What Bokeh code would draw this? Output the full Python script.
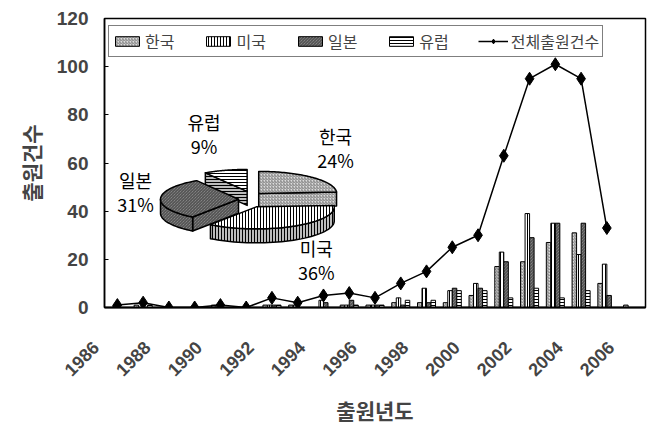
import numpy as np
from bokeh.plotting import figure
from bokeh.models import Range1d, FixedTicker, Legend, LegendItem, ColumnDataSource
from bokeh.core.properties import value
from bokeh.embed import file_html
from bokeh.resources import INLINE

# ---- data -------------------------------------------------------------
years = list(range(1986, 2007))
year_ticks = years[::2]
year_tick_labels = [str(y) for y in year_ticks]

korea = [0, 1, 0, 0, 1, 0, 1, 1, 0, 1, 1, 2, 2, 2, 5, 17, 19, 27, 31, 10, 1]
usa = [1, 0, 0, 0, 0, 0, 1, 1, 3, 1, 1, 4, 8, 7, 10, 23, 39, 35, 22, 18, 0]
japan = [0, 0, 0, 0, 0, 0, 1, 0, 2, 3, 1, 1, 2, 8, 8, 19, 29, 35, 35, 5, 0]
europe = [0, 1, 0, 0, 0, 0, 1, 0, 0, 1, 1, 3, 3, 7, 7, 4, 8, 4, 7, 0, 0]

total_years = list(range(1986, 2006))
total = [1, 2, 0, 0, 1, 0, 4, 2, 5, 6, 4, 10, 15, 25, 30, 63, 95, 101, 95, 33]

countries = ["한국", "미국", "일본", "유럽"]
shares = [24, 36, 31, 9]
total_label = "전체출원건수"

# ---- styles -----------------------------------------------------------
KR = "Noto Sans CJK KR"
NUM = "Liberation Sans"
styles = [
    dict(fill_color="#dcdcdc", hatch_pattern="right_diagonal_line", hatch_color="#6a6a6a", hatch_scale=3, hatch_weight=0.8),
    dict(fill_color="#ffffff", hatch_pattern="vertical_line", hatch_color="#000000", hatch_scale=3, hatch_weight=1),
    dict(fill_color="#9a9a9a", hatch_pattern="left_diagonal_line", hatch_color="#2a2a2a", hatch_scale=3, hatch_weight=0.8),
    dict(fill_color="#ffffff", hatch_pattern="horizontal_line", hatch_color="#000000", hatch_scale=3, hatch_weight=1),
]

FRAME_W, FRAME_H = 541, 289
X0, X1 = 1985.5, 2006.5
p = figure(
    frame_width=FRAME_W, frame_height=FRAME_H,
    min_border_left=104, min_border_right=9, min_border_top=18, min_border_bottom=121,
    x_range=Range1d(X0, X1), y_range=Range1d(0, 120),
    output_backend="svg", toolbar_location=None,
    background_fill_color="white", border_fill_color="white",
)
p.grid.visible = False
p.outline_line_color = "black"
p.outline_line_width = 1.5

# ---- grouped bars -----------------------------------------------------
series = [korea, usa, japan, europe]
bar_w = 0.175
offsets = [-1.5 * bar_w, -0.5 * bar_w, 0.5 * bar_w, 1.5 * bar_w]
bar_renderers = []
for vals, off, st in zip(series, offsets, styles):
    src = ColumnDataSource(dict(x=[y + off for y in years], top=vals))
    r = p.vbar(x="x", top="top", bottom=0, width=bar_w, source=src,
               line_color="black", line_width=1, **st)
    bar_renderers.append(r)

# ---- total line -------------------------------------------------------
tsrc = ColumnDataSource(dict(x=total_years, y=total))
line_r = p.line("x", "y", source=tsrc, line_color="black", line_width=1.5)
mark_r = p.scatter("x", "y", source=tsrc, marker="diamond", size=13,
                   fill_color="black", line_color="black")

# ---- inset 3D pie (drawn in its own pixel-scaled ranges) --------------
CX, CY = 146, 108            # pie centre measured from frame's bottom-left
p.extra_x_ranges = {"pie_x": Range1d(-CX, FRAME_W - CX)}
p.extra_y_ranges = {"pie_y": Range1d(-CY, FRAME_H - CY)}
RX, RY, T, EXPLODE = 78, 22, 14, 12

frac = np.array(shares, dtype=float) / sum(shares)
edges = np.concatenate([[0.0], np.cumsum(frac)]) * 2 * np.pi
mids = 0.5 * (edges[:-1] + edges[1:])
order = sorted(range(len(shares)), key=lambda i: -np.cos(mids[i]))  # back slices first

side_styles = []
for st in styles:
    s2 = dict(st)
    s2["fill_color"] = "#bbbbbb" if st["fill_color"] == "#ffffff" else st["fill_color"]
    side_styles.append(s2)

def rim(ox, oy, a):
    return ox + RX * np.sin(a), oy + RY * np.cos(a)

for i in order:
    a1, a2, mid = edges[i], edges[i + 1], mids[i]
    ox = EXPLODE * np.sin(mid)
    oy = EXPLODE * np.cos(mid) * 0.7
    polys = []
    # radial cut faces that look toward the viewer
    for a, show in ((a1, np.sin(a1) < -1e-9), (a2, np.sin(a2) > 1e-9)):
        if show:
            rx_, ry_ = rim(ox, oy, a)
            polys.append(([ox, rx_, rx_, ox], [oy, ry_, ry_ - T, oy - T], side_styles[i]))
    # outer curved wall on the front half
    lo, hi = max(a1, np.pi / 2), min(a2, 1.5 * np.pi)
    if lo < hi:
        aa = np.linspace(lo, hi, 40)
        xs, ys = rim(ox, oy, aa)
        polys.append((list(xs) + list(xs[::-1]), list(ys) + list((ys - T)[::-1]), side_styles[i]))
    # top face
    aa = np.linspace(a1, a2, 60)
    xs, ys = rim(ox, oy, aa)
    polys.append(([ox] + list(xs), [oy] + list(ys), styles[i]))
    for xs_, ys_, st in polys:
        p.patch(xs_, ys_, x_range_name="pie_x", y_range_name="pie_y",
                line_color="black", line_width=1.5, line_join="round", **st)

# slice labels (name above, share below) placed around each slice's mid angle
s, c = np.sin(mids), np.cos(mids)
lab_x = 95 * s + 20 * np.sign(s)
lab_y = 62 * c + 6 * np.sign(c)
common = dict(x_range_name="pie_x", y_range_name="pie_y", text_font=value(KR),
              text_font_size="18px", text_color="black",
              text_align="center", text_baseline="middle")
p.text(x=list(lab_x), y=list(lab_y + 12), text=countries, **common)
p.text(x=list(lab_x), y=list(lab_y - 12), text=[f"{v}%" for v in shares], **common)

# ---- axes -------------------------------------------------------------
# slanted year labels; trailing no-break spaces pull each label down-left
# so that its upper end sits just left of its category
PAD = "\u00a0" * 6
xa = p.xaxis[0]
xa.ticker = FixedTicker(ticks=year_ticks)
xa.major_label_overrides = {t: lbl + PAD for t, lbl in zip(year_ticks, year_tick_labels)}
xa.major_label_orientation = np.pi / 4
xa.major_label_text_font = NUM
xa.major_label_text_font_style = "bold"
xa.major_label_text_font_size = "18px"
xa.major_label_standoff = 16
xa.major_tick_in = 0
xa.major_tick_out = 0
xa.minor_tick_line_color = None
xa.axis_line_width = 2
xa.axis_label = "출원년도"
xa.axis_label_text_font = KR
xa.axis_label_text_font_style = "bold"
xa.axis_label_text_font_size = "21px"
xa.axis_label_standoff = 5

ya = p.yaxis[0]
ya.ticker = FixedTicker(ticks=[0, 20, 40, 60, 80, 100, 120])
ya.major_label_text_font = NUM
ya.major_label_text_font_style = "bold"
ya.major_label_text_font_size = "19px"
ya.major_label_standoff = 16
ya.major_tick_in = 4
ya.major_tick_out = 0
ya.minor_tick_line_color = None
ya.axis_line_width = 1.5
ya.axis_label = "출원건수"
ya.axis_label_text_font = KR
ya.axis_label_text_font_style = "bold"
ya.axis_label_text_font_size = "21px"
ya.axis_label_standoff = 8

# ---- legend -----------------------------------------------------------
items = [LegendItem(label=c_, renderers=[r]) for c_, r in zip(countries, bar_renderers)]
items.append(LegendItem(label=total_label, renderers=[line_r, mark_r]))
legend = Legend(items=items, orientation="horizontal", location=(4, FRAME_H - 10 - 29),
                label_text_font=KR, label_text_font_size="16px",
                glyph_width=30, glyph_height=12, label_standoff=3, spacing=29,
                label_height=18, padding=3, margin=0,
                border_line_color="black", border_line_width=1,
                background_fill_color="white", background_fill_alpha=1)
p.add_layout(legend, "center")

open("out.html", "w").write(file_html(p, INLINE))
